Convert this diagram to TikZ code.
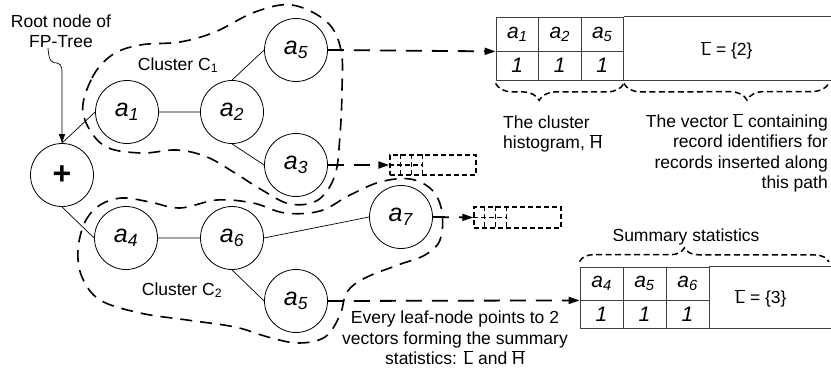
\documentclass[tikz,border=0pt]{standalone}
\usepackage{fontspec}
\setmainfont{Liberation Sans}
\usetikzlibrary{arrows.meta,decorations.pathreplacing}
\newcommand{\attr}[1]{\textit{a}\textsubscript{\textit{#1}}}
\newcommand{\barL}{$\overline{\hbox{L}}$}
\newcommand{\barH}{$\overline{\hbox{H}}$}

\begin{document}
\begin{tikzpicture}[x=1pt, y=-1pt]
        \tikzstyle{item}=[circle, draw, line width=0.8pt, minimum size=63pt, inner sep=0pt, font=\fontsize{25}{28}\selectfont]
        \tikzstyle{txt}=[inner sep=0pt, font=\fontsize{17.5}{20.5}\selectfont]
        \tikzstyle{edge}=[line width=0.7pt]
        \tikzstyle{cluster}=[line width=1.6pt, dash pattern=on 12pt off 8pt]
        \tikzstyle{pointer}=[line width=1.8pt, dash pattern=on 16pt off 10pt, -{Triangle[length=11pt, width=7pt]}]
        \tikzstyle{hcell}=[draw=black!75, line width=0.8pt, minimum width=42.5pt, minimum height=34pt, inner sep=0pt, font=\fontsize{21}{24}\selectfont]
        \tikzstyle{vcell}=[hcell, minimum height=29pt]
        \tikzstyle{tablerule}=[draw=black!75, line width=0.8pt]
        \tikzstyle{bracket}=[line width=1.5pt, dash pattern=on 6pt off 3.5pt, decorate]
        \tikzstyle{vecbox}=[draw, line width=1.4pt, dash pattern=on 5pt off 3pt, minimum width=86pt, minimum height=20pt, inner sep=0pt]
        \tikzstyle{vecline}=[line width=1.4pt, dash pattern=on 5pt off 3pt]

        \useasboundingbox (0,0) rectangle (831,372);
        \clip (0,0) rectangle (831,372);

        % tree
        \path (62,175) node[item, font=\fontsize{32}{34}\selectfont\bfseries] (root) {+};
        \path (127,112) node[item] (a1) {\attr{1}};
        \path (232,112) node[item] (a2) {\attr{2}};
        \path (296,50) node[item] (a5t) {\attr{5}};
        \path (296,165) node[item] (a3) {\attr{3}};
        \path (126,238) node[item] (a4) {\attr{4}};
        \path (232,238) node[item] (a6) {\attr{6}};
        \path (401,217) node[item] (a7) {\attr{7}};
        \path (296,301) node[item] (a5b) {\attr{5}};

        \draw [edge]
          (root.north) -- (a1.west)
          (a1) -- (a2)
          (a2.north) -- (a5t.west)
          (a2.south) -- (a3.west)
          (root.south) -- (a4.west)
          (a4) -- (a6)
          (a6.east) -- (a7.west)
          (a6.south) -- (a5b.west);

        % root label
        \path (61,31) node[txt, align=center] (roottxt) {Root node of\\FP-Tree};
        \coordinate (rootptr) at (48,48);
        \draw [line width=0.7pt, -{Triangle[length=9pt, width=6pt]}]
          (rootptr) .. controls (49,62) and (52,63) .. (57,63)
          .. controls (63,64) and (62,70) .. (62,82) -- (root.north);

        % clusters
        \draw [cluster] plot [smooth cycle, tension=0.6] coordinates {
          (83,113) (92,78) (112,55) (140,45) (180,42) (215,32) (255,12) (292,5)
          (327,22) (341,50) (342,90) (340,135) (335,175) (318,200) (290,204)
          (262,190) (235,173) (207,157) (177,150) (140,153) (103,145)};
        \draw [cluster] plot [smooth cycle, tension=0.6] coordinates {
          (78,250) (85,222) (100,205) (122,198) (150,202) (180,208) (217,200)
          (253,203) (285,213) (320,211) (350,195) (380,182) (410,179) (432,190)
          (442,212) (440,240) (425,255) (398,265) (365,278) (347,292) (340,315)
          (325,337) (298,343) (268,337) (235,327) (187,320) (140,313) (100,300)
          (82,277)};
        \path (178,65) node[txt] (clusterone) {Cluster C\textsubscript{1}};
        \path (182,290) node[txt] (clustertwo) {Cluster C\textsubscript{2}};

        % top summary table
        \foreach \i/\s in {1/1, 2/2, 3/5}
        {
          \path (496+42.5*\i-21.25, 34) node[hcell] (tA\i) {\attr{\s}};
          \path (496+42.5*\i-21.25, 65.5) node[vcell] (tB\i) {\textit{1}};
        }
        \draw [tablerule]
          (tA3.north east) -- ++(220,0)
          (tB3.south east) -- ++(220,0);
        \path (727,50) node[txt] (tL) {\barL{} = \{2\}};

        % bottom summary table
        \foreach \i/\s in {1/4, 2/5, 3/6}
        {
          \path (580+43*\i-21.5, 283.5) node[hcell, minimum width=43pt, minimum height=33pt] (bA\i) {\attr{\s}};
          \path (580+43*\i-21.5, 314) node[vcell, minimum width=43pt, minimum height=28pt] (bB\i) {\textit{1}};
        }
        \draw [tablerule]
          (bA3.north east) -- ++(140,0)
          (bB3.south east) -- ++(140,0);
        \path (761,298) node[txt] (bL) {\barL{} = \{3\}};

        % braces
        \coordinate (tEnd) at (829,83);
        \coordinate (bEnd) at (829,262);
        \draw [bracket, decoration={brace, mirror, amplitude=17pt, aspect=0.34}]
          ([yshift=-3pt]tB1.south west) -- ([yshift=-3pt]tB3.south east);
        \draw [bracket, decoration={brace, mirror, amplitude=17pt, aspect=0.6}]
          ([yshift=-3pt]tB3.south east) -- (tEnd);
        \draw [bracket, decoration={brace, amplitude=14pt, aspect=0.42}]
          ([yshift=5pt]bA1.north west) -- (bEnd);

        \path (503,134) node[txt, anchor=west, align=left] (histtxt) {The cluster\\histogram, \barH};
        \path (828,153) node[txt, anchor=east, align=right] (vectxt)
          {The vector \barL{} containing\\record identifiers for\\records inserted along\\this path};
        \path (686,237) node[txt] (sumtxt) {Summary statistics};
        \path (455,338) node[txt, align=center] (leaftxt)
          {Every leaf-node points to 2\\vectors forming the summary\\statistics: \barL{} and \barH};

        % empty vectors of the inner leaves
        \path (433,165) node[vecbox] (v3) {};
        \path (517.5,217.5) node[vecbox, minimum width=87pt, minimum height=21pt] (v7) {};
        \foreach \v in {v3, v7}
        {
          \foreach \k in {11, 22, 33}
          {
            \draw [vecline] ([xshift=\k pt]\v.north west) -- ([xshift=\k pt]\v.south west);
          }
          \draw [vecline] (\v.west) -- ([xshift=33pt]\v.west);
        }

        % pointers from the leaves
        \draw [pointer] (a5t.east) -- (tA1.south west);
        \draw [pointer] (a3.east) -- (v3.west);
        \draw [pointer] (a7.east) -- (v7.west);
        \draw [pointer] (a5b.east) -- (bA1.south west);
      \end{tikzpicture}
\end{document}
